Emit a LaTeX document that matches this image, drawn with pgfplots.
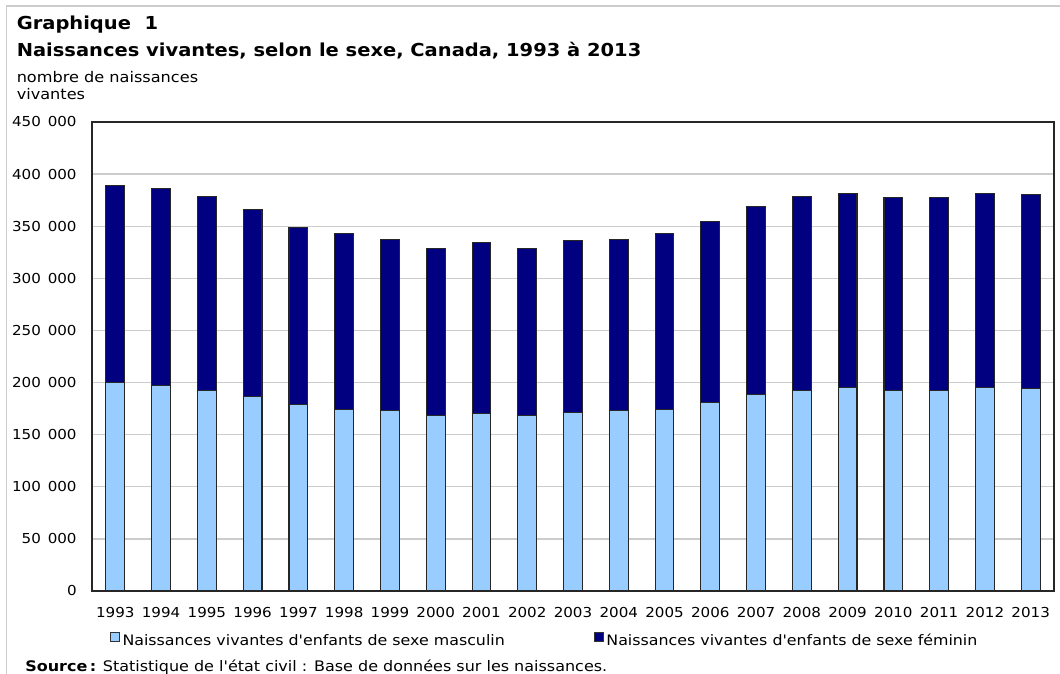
\documentclass[border=0pt]{standalone}
\usepackage{fontspec}
\setmainfont{DejaVu Sans}[FakeStretch=1.1]
\newfontfamily\bodyfont{DejaVu Sans}[FakeStretch=1.1]
\newfontfamily\titlefont{DejaVu Sans}[FakeStretch=1.09]
\usepackage{pgfplots}
\pgfplotsset{compat=1.18}
\usepackage{pgfplotstable}
\definecolor{masc}{HTML}{99CCFF}
\definecolor{fem}{HTML}{000080}
\definecolor{cadre}{HTML}{CCCCCC}

% naissances vivantes selon le sexe
\pgfplotstableread{
idx annee masc fem
0  1993 199800 188900
1  1994 196900 189000
2  1995 192800 186000
3  1996 187000 179300
4  1997 178600 170400
5  1998 174200 169200
6  1999 172800 164600
7  2000 168400 160600
8  2001 170000 164800
9  2002 168400 160600
10 2003 171300 165100
11 2004 172800 164600
12 2005 174200 169200
13 2006 181200 173500
14 2007 188600 180300
15 2008 192800 186000
16 2009 195700 186000
17 2010 192800 184400
18 2011 192800 184400
19 2012 195700 186000
20 2013 194000 186400
}\naissances

\begin{document}
\bodyfont
\begin{tikzpicture}
% page = 1060 x 674 px, 1 px = 0.75 pt, axis box corner at origin
\begin{scope}[shift={(-69pt,443.25pt)}, x=0.75pt, y=-0.75pt]
\path[use as bounding box] (0,0) rectangle (1060,674);
\draw[cadre, line width=1.1pt] (6.5,674) -- (6.5,6) -- (1060,6);
\node[anchor=base west, inner sep=0pt, font=\titlefont\bfseries\fontsize{13.4}{15}\selectfont] at (16.5,30) {Graphique\ \ 1};
\node[anchor=base west, inner sep=0pt, font=\titlefont\bfseries\fontsize{13.4}{15}\selectfont] at (16.5,57) {Naissances vivantes, selon le sexe, Canada, 1993 à 2013};
\node[anchor=base west, inner sep=0pt, font=\bodyfont\fontsize{11}{13}\selectfont] at (16.5,83) {nombre de naissances};
\node[anchor=base west, inner sep=0pt, font=\bodyfont\fontsize{11}{13}\selectfont] at (16.5,100) {vivantes};
\node[anchor=base west, inner sep=0pt, font=\bodyfont\fontsize{10.9}{13}\selectfont] at (25,671) {\textbf{Source\,:} Statistique de l'état civil : Base de données sur les naissances.};
\end{scope}

\begin{axis}[
  name=ax, at={(0,0)}, anchor=south west,
  width=721.5pt, height=351.75pt, scale only axis,
  ybar stacked, bar width=0.41,
  xmin=-0.51, xmax=20.51,
  ymin=0, ymax=450000,
  xtick=data,
  xticklabels={1993,1994,1995,1996,1997,1998,1999,2000,2001,2002,2003,2004,2005,2006,2007,2008,2009,2010,2011,2012,2013},
  ytick={0,50000,100000,150000,200000,250000,300000,350000,400000,450000},
  yticklabels={0,50\enspace000,100\enspace000,150\enspace000,200\enspace000,250\enspace000,300\enspace000,350\enspace000,400\enspace000,450\enspace000},
  scaled y ticks=false,
  yticklabel style={xshift=-8pt},
  xticklabel style={yshift=-8.4pt},
  tick label style={font=\bodyfont\fontsize{10.3}{12}\selectfont},
  major tick length=0pt,
  ymajorgrids,
  major grid style={draw=black!20, line width=1pt},
  axis line style={draw=black!85, line width=1.2pt},
  legend columns=2,
  legend cell align=left,
  legend style={
    at={(rel axis cs:0.0187,-0.1045)}, anchor=west,
    draw=none, fill=none, inner sep=0pt,
    font=\bodyfont\fontsize{10.8}{12}\selectfont,
    nodes={inner sep=0pt},
    /tikz/every odd column/.append style={column sep=2pt},
    /tikz/every even column/.append style={column sep=67pt},
  },
  legend image code/.code={\draw[#1, draw=black!80, line width=0.6pt] (0pt,-0.5pt) rectangle (6.6pt,6.1pt);},
]
\addplot+[draw=black!85, line width=0.8pt, fill=masc] table[x=idx, y=masc] {\naissances};
\addplot+[draw=black!85, line width=0.8pt, fill=fem] table[x=idx, y=fem] {\naissances};
\legend{Naissances vivantes d'enfants de sexe masculin, Naissances vivantes d'enfants de sexe féminin}
\end{axis}
\end{tikzpicture}
\end{document}
